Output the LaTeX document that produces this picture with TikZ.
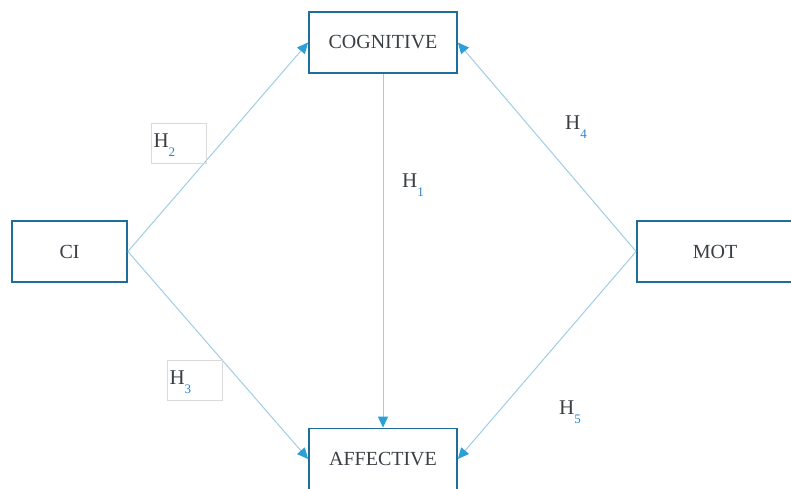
\documentclass[tikz,border=0pt]{standalone}
\usepackage{fontspec}
\setmainfont{Liberation Serif}
\usetikzlibrary{arrows.meta}
\definecolor{boxline}{HTML}{1F6E99}
\definecolor{arrline}{HTML}{9FCDE6}
\definecolor{arrhead}{HTML}{2A9FD8}
\definecolor{txt}{HTML}{3A3F45}
\definecolor{subc}{HTML}{2F7FC8}
\definecolor{lblframe}{HTML}{DADADA}
\tikzset{
  varbox/.style={draw=boxline, line width=1.8pt, fill=white, text=txt,
    minimum height=61pt, inner sep=0pt, font=\fontsize{20}{22}\selectfont},
  conn/.style={draw=arrline, line width=1pt,
    -{Triangle[length=11pt,width=10pt,color=arrhead]}},
  hlabel/.style={text=txt, inner sep=0pt, font=\fontsize{21}{23}\selectfont},
  hframe/.style={hlabel, draw=lblframe, line width=0.6pt, minimum width=55pt,
    minimum height=40pt, text width=50pt, align=left,
    text height=17pt, text depth=9pt},
}
\newcommand{\hyp}[1]{H\raisebox{-0.45em}{\fontsize{13}{13}\selectfont\color{subc}#1}}
\begin{document}
\begin{tikzpicture}[x=1pt,y=-1pt]
\useasboundingbox (0,0) rectangle (791,489);
\node[varbox, minimum width=148pt] (cog) at (383,42.5) {COGNITIVE};
\node[varbox, minimum width=148pt] (aff) at (383,459) {AFFECTIVE};
\node[varbox, minimum width=115pt] (ci) at (69.5,251.5) {CI};
\node[varbox, minimum width=156pt] (mot) at (715,251.5) {MOT};
\draw[conn] (ci.east) -- (cog.west);
\draw[conn] (ci.east) -- (aff.west);
\draw[conn] (mot.west) -- (cog.east);
\draw[conn] (mot.west) -- (aff.east);
\draw[conn] (cog.south) -- (aff.north);
\node[hframe] (h2) at (178.5,143.5) {\hyp{2}};
\node[hframe] (h3) at (194.5,380) {\hyp{3}};
\node[hlabel] (h1) at (413,185) {\hyp{1}};
\node[hlabel] (h4) at (576,127) {\hyp{4}};
\node[hlabel] (h5) at (570,412) {\hyp{5}};
\end{tikzpicture}
\end{document}
